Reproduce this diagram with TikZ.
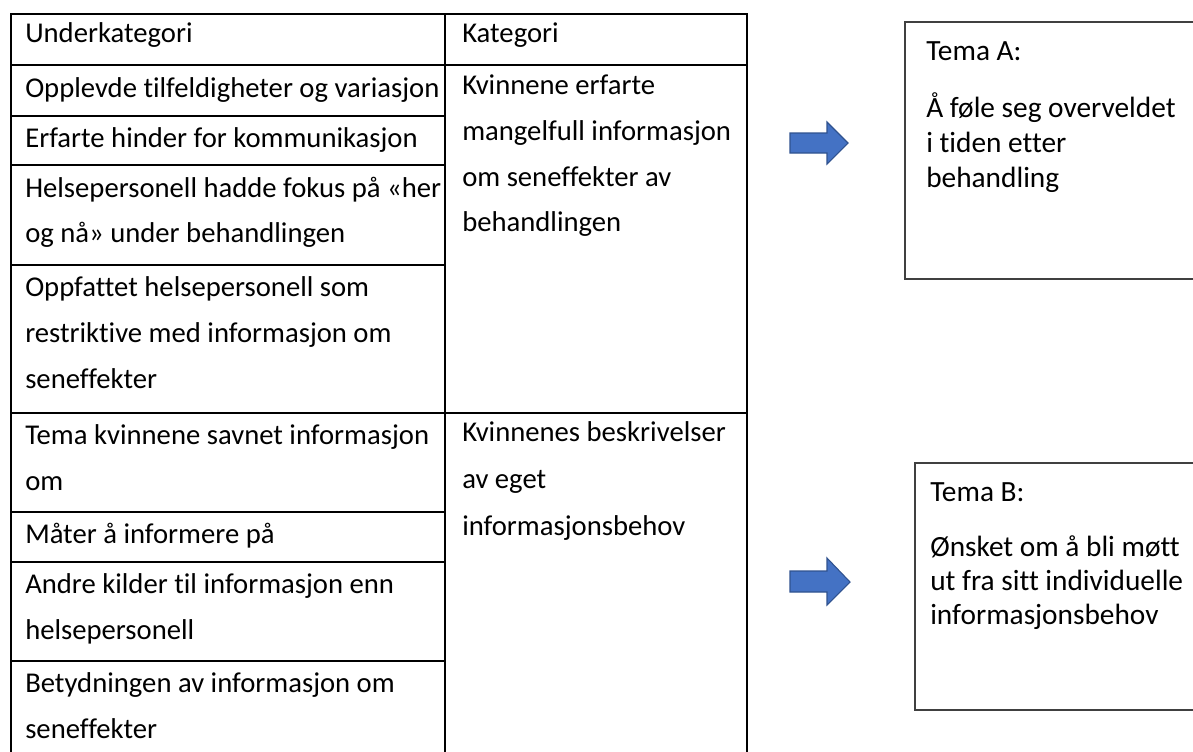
\documentclass[tikz,border=0pt]{standalone}
\usepackage{fontspec}
\setmainfont{Carlito}[Ligatures=NoCommon]
\definecolor{arrowfill}{HTML}{4472C4}
\definecolor{arrowline}{HTML}{2F528F}
\begin{document}
\begin{tikzpicture}[x=0.75pt,y=-0.75pt,
  tx/.style={anchor=base west,inner sep=0pt,font=\fontsize{21.5pt}{26pt}\selectfont},
  tt/.style={anchor=base west,inner sep=0pt,font=\fontsize{22pt}{26pt}\selectfont},
  grid/.style={line width=1.5pt,draw=black},
  tbox/.style={line width=1pt,draw=black!75},
  barrow/.style={fill=arrowfill,draw=arrowline,line width=0.8pt,line join=miter}]
\useasboundingbox (0,0) rectangle (1193,751);
% table frame
\draw[grid] (11,14) rectangle (747,770);
\draw[grid] (445,14) -- (445,770);
\draw[grid] (11,65) -- (747,65);
\draw[grid] (11,413) -- (747,413);
\foreach \yy in {116,165,265,512,562,661}{\draw[grid] (11,\yy) -- (445,\yy);}
% left column texts
\node[tx] (h1) at (25,42) {Underkategori};
\node[tx] (u1) at (25,97) {Opplevde tilfeldigheter og variasjon};
\node[tx] (u2) at (25,147) {Erfarte hinder for kommunikasjon};
\node[tx] (u3a) at (25,197) {Helsepersonell hadde fokus på «her};
\node[tx] (u3b) at (25,242) {og nå» under behandlingen};
\node[tx] (u4a) at (25,296) {Oppfattet helsepersonell som};
\node[tx] (u4b) at (25,342) {restriktive med informasjon om};
\node[tx] (u4c) at (25,388) {seneffekter};
\node[tx] (u5a) at (25,444) {Tema kvinnene savnet informasjon};
\node[tx] (u5b) at (25,490) {om};
\node[tx] (u6) at (25,543) {Måter å informere på};
\node[tx] (u7a) at (25,593) {Andre kilder til informasjon enn};
\node[tx] (u7b) at (25,639) {helsepersonell};
\node[tx] (u8a) at (25,692) {Betydningen av informasjon om};
\node[tx] (u8b) at (25,738) {seneffekter};
% right column texts
\node[tx] (h2) at (462,42) {Kategori};
\node[tx] (k1a) at (462,94) {Kvinnene erfarte};
\node[tx] (k1b) at (462,140) {mangelfull informasjon};
\node[tx] (k1c) at (462,186) {om seneffekter av};
\node[tx] (k1d) at (462,231) {behandlingen};
\node[tx] (k2a) at (462,441) {Kvinnenes beskrivelser};
\node[tx] (k2b) at (462,488) {av eget};
\node[tx] (k2c) at (462,535) {informasjonsbehov};
% block arrows
\fill[barrow] (790,133) -- (827,133) -- (827,122) -- (848,143) -- (827,164) -- (827,153) -- (790,153) -- cycle;
\fill[barrow] (790,571) -- (827,571) -- (827,558) -- (850,582) -- (827,605) -- (827,592) -- (790,592) -- cycle;
% theme boxes
\draw[tbox] (1200,22) -- (905,22) -- (905,279) -- (1200,279);
\node[tt] (ta0) at (926,60) {Tema A:};
\node[tt] (ta1) at (926,117) {Å føle seg overveldet};
\node[tt] (ta2) at (926,152) {i tiden etter};
\node[tt] (ta3) at (926,187) {behandling};
\draw[tbox] (1200,463) -- (915,463) -- (915,710) -- (1200,710);
\node[tt] (tb0) at (930,501) {Tema B:};
\node[tt] (tb1) at (930,556) {Ønsket om å bli møtt};
\node[tt] (tb2) at (930,590) {ut fra sitt individuelle};
\node[tt] (tb3) at (930,624) {informasjonsbehov};
\end{tikzpicture}
\end{document}
